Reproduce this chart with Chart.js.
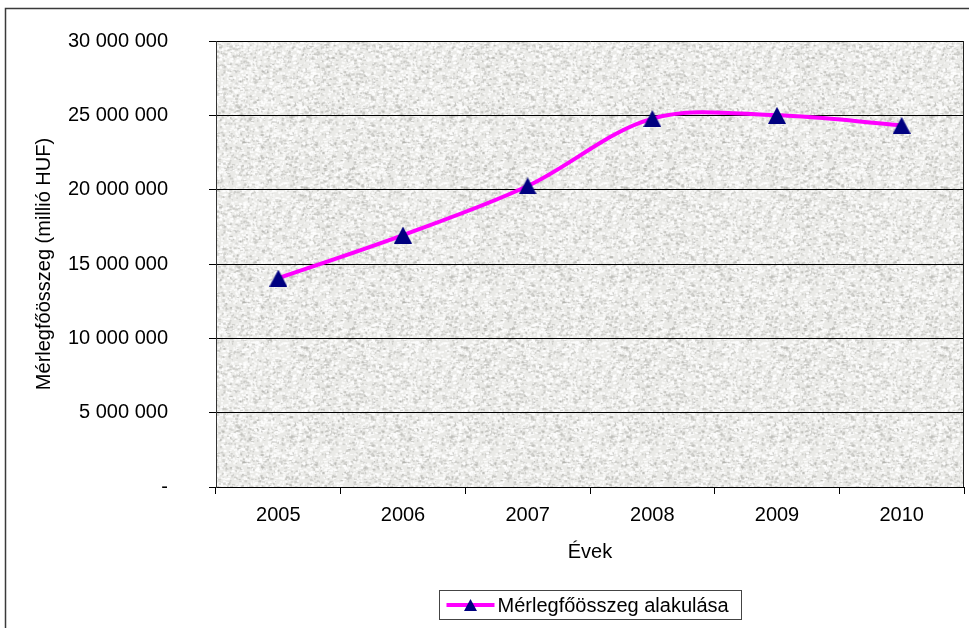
<!DOCTYPE html>
<html>
<head>
<meta charset="utf-8">
<script src="https://cdn.jsdelivr.net/npm/chart.js@4.4.1/dist/chart.umd.min.js"></script>
<style>
  html, body { margin: 0; padding: 0; background: #fff; }
  canvas { display: block; }
</style>
</head>
<body>
<canvas id="myChart" width="969" height="628"></canvas>
<script>
const years = ["2005", "2006", "2007", "2008", "2009", "2010"];
const totals = [14050000, 16950000, 20250000, 24780000, 25000000, 24330000];
const seriesLabel = "Mérlegfőösszeg alakulása";
const yTitle = "Mérlegfőösszeg (millió HUF)";
const xTitle = "Évek";

const FONT = "'Liberation Sans', Arial, sans-serif";
Chart.defaults.font.family = FONT;
Chart.defaults.font.size = 20;
Chart.defaults.color = "#000";

const NAVY = "#000080";
const MAGENTA = "#ff00ff";

// "30 000 000" style, zero shown as a dash
function fmt(v) {
  if (v === 0) return "-";
  return String(v).replace(/\B(?=(\d{3})+(?!\d))/g, " ");
}

// triangle marker centred on its bounding box, like the spreadsheet one
function triangle(w, h) {
  const c = document.createElement("canvas");
  c.width = w;
  c.height = h;
  const g = c.getContext("2d");
  g.fillStyle = NAVY;
  g.beginPath();
  g.moveTo(w / 2, 0);
  g.lineTo(w, h);
  g.lineTo(0, h);
  g.closePath();
  g.fill();
  return c;
}
const marker = triangle(18, 17);
const legendMarker = triangle(13, 12);

// granite-like speckle tile for the plot background (deterministic)
function speckleTile() {
  const c = document.createElement("canvas");
  c.width = c.height = 160;
  const g = c.getContext("2d");
  g.fillStyle = "#eaeae7";
  g.fillRect(0, 0, 160, 160);
  let s = 12345;
  const next = () => (s = (s * 16807) % 2147483647) / 2147483647;
  for (let i = 0; i < 5000; i++) {
    const x = next() * 160, y = next() * 160, v = next();
    g.fillStyle = v < 0.4 ? "rgba(170,170,165,0.4)" : "rgba(255,255,255,0.75)";
    g.fillRect(x, y, 1 + next() * 2.5, 1 + next() * 1.5);
  }
  return c;
}
const tile = speckleTile();

const frame = {
  id: "frame",
  beforeDraw(chart) {
    const { ctx, chartArea: a } = chart;
    ctx.save();
    ctx.fillStyle = "#fff";
    ctx.fillRect(0, 0, chart.width, chart.height);
    ctx.fillStyle = ctx.createPattern(tile, "repeat");
    ctx.fillRect(a.left, a.top, a.right - a.left, a.bottom - a.top);
    ctx.strokeStyle = "#3a3a3a";
    ctx.lineWidth = 1.5;
    ctx.strokeRect(5.5, 8.5, chart.width + 20, chart.height + 20);
    ctx.restore();
  },
  afterDraw(chart) {
    const { ctx, chartArea: a } = chart;
    const ds = chart.data.datasets[0];
    ctx.save();
    // right edge of the plot
    ctx.strokeStyle = "#222";
    ctx.lineWidth = 1;
    ctx.beginPath();
    ctx.moveTo(a.right - 0.5, a.top);
    ctx.lineTo(a.right - 0.5, a.bottom);
    ctx.stroke();

    // legend box
    const lx = 439.5, ly = 590.5, lw = 302, lh = 29, my = ly + lh / 2;
    ctx.fillStyle = "#fff";
    ctx.fillRect(lx, ly, lw, lh);
    ctx.strokeStyle = "#444";
    ctx.strokeRect(lx, ly, lw, lh);
    ctx.strokeStyle = ds.borderColor;
    ctx.lineWidth = 4;
    ctx.beginPath();
    ctx.moveTo(lx + 7, my);
    ctx.lineTo(lx + 55, my);
    ctx.stroke();
    ctx.drawImage(legendMarker, lx + 31 - 6.5, my - 6);
    ctx.fillStyle = "#000";
    ctx.font = "20px " + FONT;
    ctx.textBaseline = "middle";
    ctx.textAlign = "left";
    ctx.fillText(ds.label, lx + 58, my + 1);
    ctx.restore();
  }
};

new Chart(document.getElementById("myChart"), {
  type: "line",
  data: {
    labels: years,
    datasets: [
      {
        label: seriesLabel,
        data: totals,
        borderColor: MAGENTA,
        borderWidth: 4,
        tension: 0.34,
        pointStyle: marker,
        pointRadius: 9,
        pointHoverRadius: 9,
      },
    ],
  },
  options: {
    responsive: false,
    animation: false,
    layout: { autoPadding: false, padding: { left: 0, right: 5, top: 41, bottom: 0 } },
    plugins: {
      legend: { display: false },
      tooltip: { enabled: false },
    },
    scales: {
      x: {
        offset: true,
        grid: { offset: true, drawOnChartArea: false, drawTicks: true, tickLength: 7, color: "#000" },
        border: { color: "#000", width: 1 },
        ticks: { padding: 9, maxRotation: 0, autoSkip: false },
        title: { display: true, text: xTitle, padding: { top: 0, bottom: 64 } },
        afterFit(scale) { scale.height = 141; },
      },
      y: {
        min: 0,
        max: 30000000,
        ticks: { stepSize: 5000000, padding: 41, callback: (v) => fmt(v) },
        grid: { color: "#000", lineWidth: 1, tickLength: 7 },
        border: { color: "#333", width: 1 },
        title: { display: true, text: yTitle, padding: { top: 32, bottom: 0 } },
        afterFit(scale) {
          scale.width = 216;
          scale.paddingTop = 12;
          scale.paddingBottom = 12;
        },
      },
    },
  },
  plugins: [frame],
});
</script>
</body>
</html>
